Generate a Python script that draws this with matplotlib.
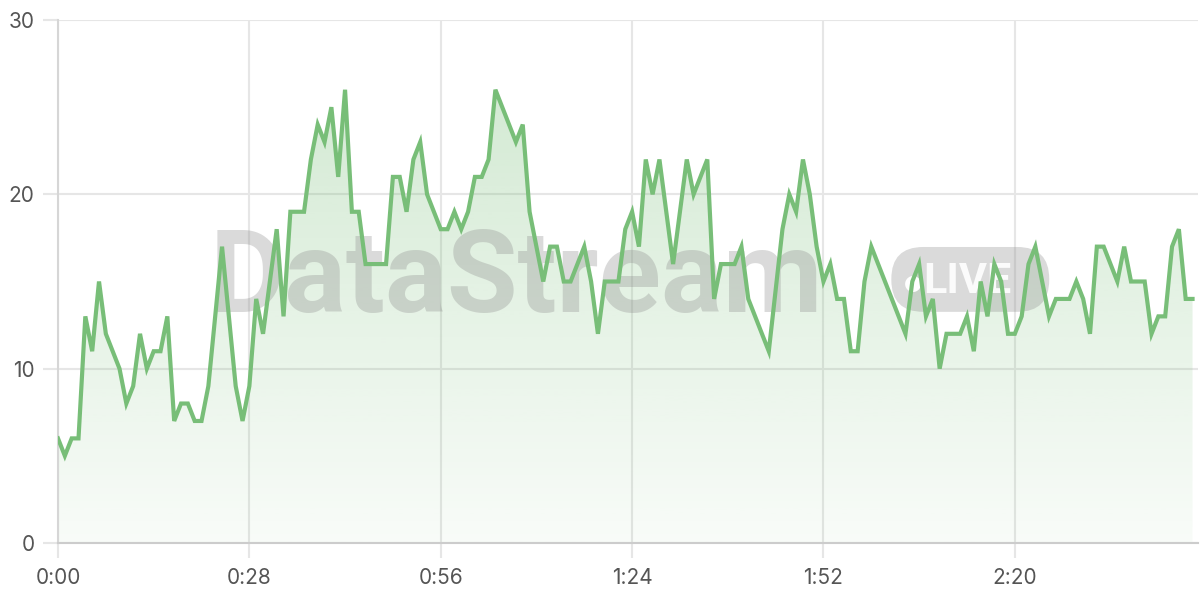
import numpy as np
import matplotlib
matplotlib.use("Agg")
import matplotlib.pyplot as plt
from matplotlib.patches import FancyBboxPatch

times = [0, 1, 2, 3, 4, 5, 6, 7, 8, 9, 10, 11, 12, 13, 14, 15, 16, 17, 18, 19,
         20, 21, 22, 24, 26, 27, 28, 29, 30, 32, 33, 34, 35, 36, 37, 38, 39, 40,
         41, 42, 43, 44, 45, 46, 47, 48, 49, 50, 51, 52, 53, 54, 55, 56, 57, 58,
         59, 60, 61, 62, 63, 64, 67, 68, 69, 70, 71, 72, 73, 74, 75, 76, 77, 78,
         79, 80, 81, 82, 83, 84, 85, 86, 87, 88, 90, 92, 93, 94, 95, 96, 97, 98,
         99, 100, 101, 104, 106, 107, 108, 109, 110, 111, 112, 113, 114, 115,
         116, 117, 118, 119, 124, 125, 126, 127, 128, 129, 130, 131, 132, 133,
         134, 135, 136, 137, 138, 139, 140, 141, 142, 143, 144, 145, 146, 147,
         148, 149, 150, 151, 152, 153, 155, 156, 157, 158, 159, 160, 161, 162,
         163, 164, 165, 166]
values = [6, 5, 6, 6, 13, 11, 15, 12, 11, 10, 8, 9, 12, 10, 11, 11, 13, 7, 8, 8,
          7, 7, 9, 17, 9, 7, 9, 14, 12, 18, 13, 19, 19, 19, 22, 24, 23, 25,
          21, 26, 19, 19, 16, 16, 16, 16, 21, 21, 19, 22, 23, 20, 19, 18, 18, 19,
          18, 19, 21, 21, 22, 26, 23, 24, 19, 17, 15, 17, 17, 15, 15, 16, 17, 15,
          12, 15, 15, 15, 18, 19, 17, 22, 20, 22, 16, 22, 20, 21, 22, 14, 16, 16,
          16, 17, 14, 11, 18, 20, 19, 22, 20, 17, 15, 16, 14, 14,
          11, 11, 15, 17, 12, 15, 16, 13, 14, 10, 12, 12, 12, 13,
          11, 15, 13, 16, 15, 12, 12, 13, 16, 17, 15, 13, 14, 14,
          14, 15, 14, 12, 17, 17, 15, 17, 15, 15, 15, 12, 13, 13,
          17, 18, 14, 14]

tick_secs = [0, 28, 56, 84, 112, 140]
tick_labels = ["0:00", "0:28", "0:56", "1:24", "1:52", "2:20"]
y_ticks = [0, 10, 20, 30]

line_color = "#78be78"
grid_color = "#e6e6e6"

plt.rcParams["font.family"] = ["Inter", "DejaVu Sans"]

fig = plt.figure(figsize=(12, 6), dpi=100)
ax = fig.add_axes([58 / 1200, 57 / 600, 1140 / 1200, 523 / 600])

x = np.array(times, dtype=float)
y = np.array(values, dtype=float)

# gradient fill under the line, clipped to the area polygon
area = ax.fill_between(x, y, 0, color="none", lw=0)
grad = np.linspace(0.05, 0.32, 256).reshape(-1, 1)
rgba = np.zeros((256, 1, 4))
rgba[..., 0] = 120 / 255
rgba[..., 1] = 190 / 255
rgba[..., 2] = 120 / 255
rgba[..., 3] = grad
img = ax.imshow(rgba, extent=[x.min(), x.max(), 0, y.max()], origin="lower",
                aspect="auto", zorder=1, interpolation="bilinear")
img.set_clip_path(area.get_paths()[0], transform=ax.transData)

# watermark
ax.text(0.133, 0.442, "DataStream", transform=ax.transAxes, fontsize=83,
        fontweight="bold", family=["Roboto", "DejaVu Sans"],
        color="#8c8c8c", alpha=0.32, ha="left", va="baseline", zorder=2)
pill = FancyBboxPatch((0.731, 0.442), 0.1385, 0.124, transform=ax.transAxes,
                      boxstyle="round,pad=0,rounding_size=0.028",
                      fc="#8c8c8c", ec="none", alpha=0.32, zorder=2,
                      mutation_aspect=1140 / 523)
ax.add_patch(pill)
ax.text(0.750, 0.497, "\u25CF", transform=ax.transAxes, fontsize=15,
        color="white", ha="center", va="center", zorder=2,
        family=["DejaVu Sans"])
ax.text(0.759, 0.5, "LIVE", transform=ax.transAxes, fontsize=31,
        fontweight="bold", family=["Roboto", "DejaVu Sans"],
        color="white", alpha=0.9, ha="left", va="center", zorder=2)

ax.plot(x, y, color=line_color, lw=3, zorder=3, solid_joinstyle="miter")

ax.set_xlim(0, 166.8)
ax.set_ylim(0, 30)
ax.set_xticks(tick_secs)
ax.set_xticklabels(tick_labels)
ax.set_yticks(y_ticks)

ax.grid(True, color=grid_color, lw=1.5, zorder=0)
ax.set_axisbelow(True)
ax.tick_params(axis="both", length=11, width=1.5, color=grid_color,
               labelsize=15, labelcolor="#555555")
ax.tick_params(axis="x", pad=7)
ax.tick_params(axis="y", pad=6)

for side in ["top", "right"]:
    ax.spines[side].set_visible(False)
ax.spines["left"].set_color("#d6d6d6")
ax.spines["left"].set_linewidth(1.5)
ax.spines["bottom"].set_color("#cccccc")
ax.spines["bottom"].set_linewidth(1.5)

fig.savefig("out.png", dpi=100)
